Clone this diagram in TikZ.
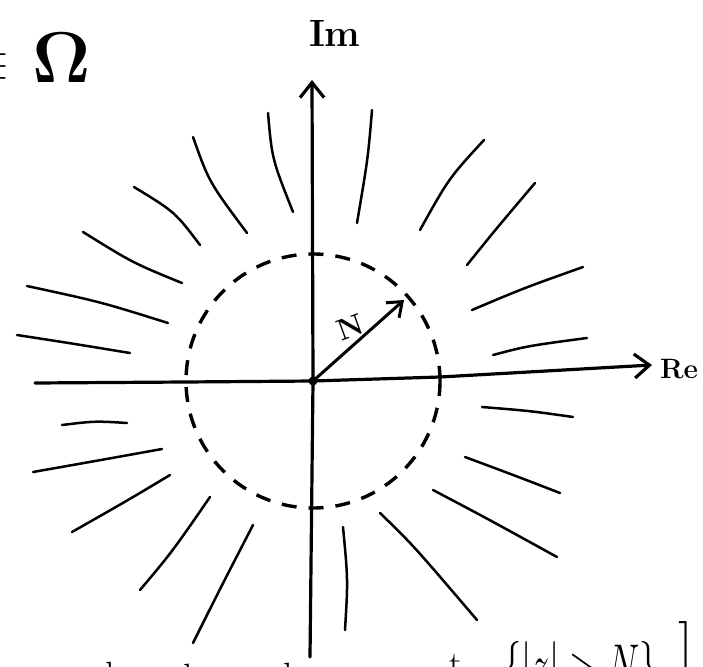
\RequirePackage{fix-cm}
\documentclass[tikz,border=0pt]{standalone}
\usetikzlibrary{arrows.meta}
\begin{document}
\begin{tikzpicture}[x=1pt,y=-1pt,
  axis/.style={line width=3.2pt, line cap=round, line join=round, -{Straight Barb[length=15pt,width=24pt]}},
  ray/.style={line width=2.5pt, line cap=round},
  circ/.style={line width=3.4pt, dash pattern=on 15pt off 12pt},
  lbl/.style={inner sep=0pt, outer sep=0pt}]
\useasboundingbox (0,0) rectangle (703,666);
\clip (0,0) rectangle (703,666);
\coordinate (O) at (313,381);
\coordinate (ybot) at (310,657);
\coordinate (ytop) at (312,80);
\coordinate (xleft) at (35,383);
\coordinate (xright) at (652,365);
\coordinate (Ntip) at (404,300);

% dashed circle
\draw[circ] (O) circle[radius=127];

% axes
\draw[axis] (ybot) -- (O) -- (ytop);
\draw[axis] (xleft) -- (185,382) -- (O) -- (440,377) -- (xright);
\fill (O) circle[radius=4.5];

% radius arrow
\draw[line width=3pt, line cap=round, -{Straight Barb[length=13pt,width=20pt]}] (O) -- (Ntip);

% rays upper-left
\draw[ray] (268,113) .. controls (272,159) .. (293,212);
\draw[ray] (193,137) .. controls (209,182) .. (247,233);
\draw[ray] (134,187) .. controls (175,212) .. (200,245);
\draw[ray] (83,232) .. controls (133,263) .. (182,283);
\draw[ray] (27,286) .. controls (101,302) .. (168,323);
\draw[ray] (17,335) .. controls (69,343) .. (130,353);
% rays upper-right
\draw[ray] (372,110) .. controls (368,158) .. (357,223);
\draw[ray] (484,140) .. controls (449,178) .. (420,230);
\draw[ray] (535,183) .. controls (496,229) .. (467,265);
\draw[ray] (583,267) .. controls (524,288) .. (472,310);
\draw[ray] (587,338) .. controls (527,346) .. (493,355);
% rays lower-left
\draw[ray] (62,425) .. controls (95,421) .. (127,423);
\draw[ray] (33,472) .. controls (101,460) .. (162,449);
\draw[ray] (72,532) .. controls (130,499) .. (170,475);
\draw[ray] (210,497) .. controls (172,552) .. (140,590);
\draw[ray] (253,525) .. controls (222,585) .. (193,643);
% rays lower-right
\draw[ray] (343,527) .. controls (348,580) .. (345,630);
\draw[ray] (482,407) .. controls (531,411) .. (573,417);
\draw[ray] (465,457) .. controls (516,476) .. (560,493);
\draw[ray] (433,490) .. controls (488,519) .. (557,557);
\draw[ray] (380,513) .. controls (413,545) .. (477,620);

% labels
\node[lbl, anchor=base east, font=\fontsize{44}{44}\selectfont] (in) at (10,78) {$\in$};
\node[lbl, anchor=base, font=\fontsize{72}{72}\selectfont] (omega) at (62,83) {$\mathbf{\Omega}$};
\node[lbl, anchor=base west, font=\fontsize{38}{38}\selectfont\bfseries] (im) at (309,47) {Im};
\node[lbl, anchor=base west, font=\fontsize{28}{28}\selectfont\bfseries] (re) at (660,378) {Re};
\node[lbl, font=\fontsize{30}{30}\selectfont\bfseries, rotate=20] (nlab) at (350,327) {N};

% bottom (cut-off) text
\node[lbl, anchor=base, font=\fontsize{38}{38}\selectfont] (l1) at (110,688) {l};
\node[lbl, anchor=base, font=\fontsize{38}{38}\selectfont] (l2) at (188,690) {l};
\node[lbl, anchor=base, font=\fontsize{38}{38}\selectfont] (l3) at (288,689) {l};
\node[lbl, anchor=base west, font=\fontsize{36}{36}\selectfont] (t) at (449,676) {t};
\node[lbl, anchor=base west, xscale=0.65, font=\fontsize{56}{56}\selectfont] (set) at (503,683) {$\{|z|>N\}$};
\node[lbl, anchor=base east, font=\fontsize{60}{60}\selectfont] (br) at (693,666) {]};
\end{tikzpicture}
\end{document}
